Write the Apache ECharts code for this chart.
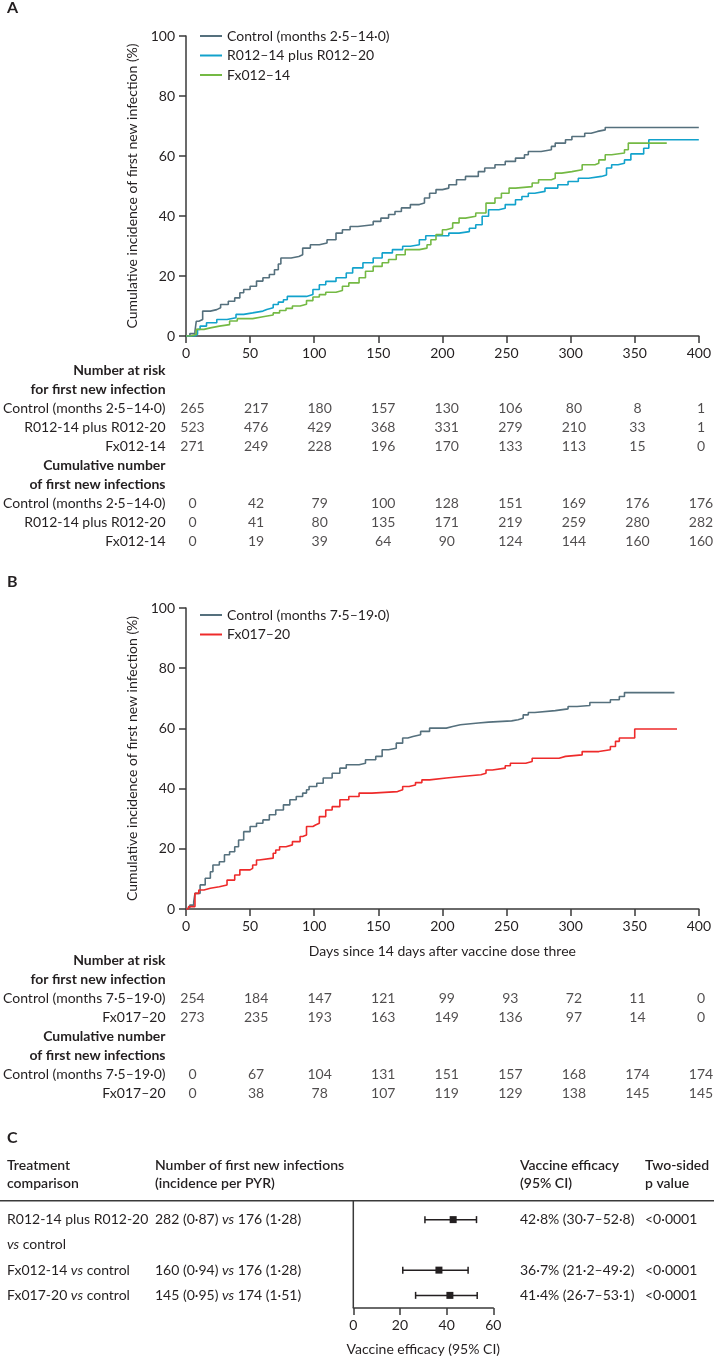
<!DOCTYPE html>
<html><head><meta charset="utf-8">
<script src="https://cdn.jsdelivr.net/npm/echarts@6/dist/echarts.min.js"></script>
<style>html,body{margin:0;padding:0;background:#fff}#c{width:714px;height:1358px}</style>
</head><body><div id="c"></div>
<script>
// ---------------- DATA ----------------
const dayTicks = [0, 50, 100, 150, 200, 250, 300, 350, 400];

const namesA = ['Control (months 2·5–14·0)', 'R012–14 plus R012–20', 'Fx012–14'];
const namesB = ['Control (months 7·5–19·0)', 'Fx017–20'];

// Kaplan-Meier style cumulative incidence (%) : [day, value]
const ctrlA = [[0,0],[3,0.8],[7,1.6],[8,4.9],[10,5.5],[13,8.3],[19,8.8],[24,9.4],[27,10.5],[33,11.6],[38,12.7],[42,14.4],[45,15.5],[50,16.6],[55,18.3],[60,19.4],[65,20.5],[69,22.1],[72,24.0],[74,26.0],[82,26.5],[88,27.1],[91,29.3],[97,30.4],[104,31.0],[110,32.1],[117,34.3],[122,35.4],[128,36.5],[134,37.1],[146,38.2],[152,39.3],[158,40.5],[163,41.5],[168,42.7],[175,43.8],[182,44.3],[186,46.0],[190,47.6],[195,48.8],[200,49.3],[205,50.4],[211,52.1],[218,53.2],[228,54.8],[233,56.0],[241,57.1],[249,58.2],[257,59.3],[264,60.4],[267,61.5],[277,62.1],[285,63.2],[288,64.3],[296,65.4],[301,66.5],[311,67.6],[316,68.2],[321,68.7],[327,69.5],[400,69.5]];
const r012A = [[0,0],[7,0.6],[9,2.2],[11,3.3],[16,4.4],[24,5.5],[32,6.1],[39,7.2],[45,7.7],[52,8.3],[60,8.8],[63,9.4],[68,10.5],[72,11.3],[76,12.1],[79,13.2],[94,13.8],[99,15.5],[104,17.1],[109,18.2],[117,19.4],[125,21.0],[130,22.7],[138,24.4],[146,26.0],[153,27.7],[161,28.8],[169,29.9],[175,30.4],[182,32.1],[187,33.4],[205,34.3],[213,34.8],[221,35.9],[226,37.1],[231,39.9],[236,42.1],[244,42.6],[249,43.8],[257,45.4],[262,46.5],[267,47.6],[272,48.2],[280,49.3],[290,50.4],[298,51.5],[306,52.6],[314,53.2],[324,53.7],[328,56.0],[332,57.1],[337,57.6],[342,58.7],[347,60.7],[357,62.6],[361,65.4],[400,65.4]];
const fxA = [[0,0],[4,0.6],[8,2.2],[14,2.7],[19,3.3],[26,3.8],[34,5.0],[40,5.8],[52,6.4],[60,7.0],[68,7.7],[73,8.5],[78,9.2],[83,10.0],[89,10.6],[94,11.8],[99,13.0],[104,13.8],[109,14.6],[117,15.2],[122,16.6],[127,17.7],[135,19.4],[140,21.6],[146,23.2],[153,24.4],[158,25.5],[164,27.1],[171,28.8],[182,29.3],[188,30.4],[191,32.1],[195,33.8],[200,35.4],[203,36.0],[208,37.7],[213,39.3],[218,39.9],[226,41.0],[234,44.3],[241,46.0],[246,47.6],[252,49.3],[257,49.8],[270,51.0],[275,52.1],[285,52.6],[288,54.3],[293,54.8],[301,55.4],[309,57.1],[319,57.6],[322,58.7],[327,60.4],[332,61.0],[342,62.1],[345,64.3],[375,64.3]];
const ctrlB = [[0,0],[1,0.5],[3,1.3],[6,2.4],[7,5.2],[11,8.0],[15,10.2],[19,12.4],[21,14.6],[26,15.7],[30,18.0],[34,19.0],[38,20.7],[41,22.9],[45,25.7],[50,27.4],[55,28.5],[60,29.6],[65,31.3],[70,32.9],[76,34.6],[81,36.3],[86,37.4],[91,38.5],[94,39.6],[96,40.7],[102,41.8],[107,43.5],[114,45.1],[120,46.8],[125,47.9],[135,48.4],[140,49.6],[148,50.7],[153,52.9],[158,53.4],[164,55.1],[169,56.8],[173,57.3],[177,57.9],[183,59.0],[190,60.1],[203,60.6],[208,61.2],[214,61.8],[228,62.1],[236,62.5],[254,62.9],[259,63.4],[263,64.5],[267,65.3],[272,65.9],[288,66.5],[298,67.3],[305,67.6],[315,68.6],[331,69.5],[338,70.6],[342,71.9],[381,71.9]];
const fxB = [[0,0],[2,0.8],[7,5.2],[10,6.3],[14,6.9],[19,7.4],[26,8.0],[32,9.6],[38,11.3],[42,13.0],[50,13.5],[52,14.6],[55,16.3],[57,16.9],[68,18.5],[70,19.6],[73,20.7],[78,21.3],[83,22.4],[89,24.1],[91,24.6],[94,27.4],[99,27.9],[101,28.5],[104,30.7],[109,32.9],[114,34.0],[120,36.3],[127,37.4],[135,38.5],[145,39.0],[165,39.6],[169,40.7],[174,41.2],[179,42.0],[184,42.9],[190,43.5],[203,44.0],[215,44.6],[230,45.1],[234,46.2],[239,46.8],[249,47.6],[253,48.4],[265,49.0],[270,50.1],[291,50.7],[296,51.2],[309,52.3],[322,52.9],[331,54.0],[335,55.7],[338,56.8],[350,59.8],[383,59.8]];

// Risk tables
const headRisk = ['Number at risk', 'for first new infection'];
const headCum = ['Cumulative number', 'of first new infections'];
const rowNamesA = ['Control (months 2·5–14·0)', 'R012-14 plus R012-20', 'Fx012-14'];
const atRiskA = [[265,217,180,157,130,106,80,8,1],[523,476,429,368,331,279,210,33,1],[271,249,228,196,170,133,113,15,0]];
const cumA = [[0,42,79,100,128,151,169,176,176],[0,41,80,135,171,219,259,280,282],[0,19,39,64,90,124,144,160,160]];
const rowNamesB = ['Control (months 7·5–19·0)', 'Fx017–20'];
const atRiskB = [[254,184,147,121,99,93,72,11,0],[273,235,193,163,149,136,97,14,0]];
const cumB = [[0,67,104,131,151,157,168,174,174],[0,38,78,107,119,129,138,145,145]];

// Forest plot (panel C)
const forestRows = ['row1', 'row1b', 'row2', 'row3'];
const veEst = [42.8, null, 36.7, 41.4];
const veLow = [30.7, null, 21.2, 26.7];
const veHigh = [52.8, null, 49.2, 53.1];
const cmpText = ['R012-14 plus R012-20', '{i|vs} control', 'Fx012-14 {i|vs} control', 'Fx017-20 {i|vs} control'];
const infText = ['282 (0·87) {i|vs} 176 (1·28)', '', '160 (0·94) {i|vs} 176 (1·28)', '145 (0·95) {i|vs} 174 (1·51)'];
const veText = ['42·8% (30·7–52·8)', '', '36·7% (21·2–49·2)', '41·4% (26·7–53·1)'];
const pText = ['<0·0001', '', '<0·0001', '<0·0001'];
const headersC = ['Treatment\ncomparison', 'Number of first new infections\n(incidence per PYR)', 'Vaccine efficacy\n(95% CI)', 'Two-sided\np value'];

// ---------------- STYLE ----------------
const FONT = 'Lato';
const TXT = '#231f20';
const AX = '#3a3a3a';
const colCtrl = '#55707d';
const colBlue = '#12a2cc';
const colGreen = '#74b944';
const colRed = '#ee2a2a';
const FS = 14;

const chart = echarts.init(document.getElementById('c'));

function tableRows(names, pre) {
  const keys = [], labels = {};
  headRisk.forEach((h, i) => { const k = pre + 'hr' + i; keys.push(k); labels[k] = '{h|' + h + '}'; });
  names.forEach((n, i) => { const k = pre + 'r' + i; keys.push(k); labels[k] = n; });
  headCum.forEach((h, i) => { const k = pre + 'hc' + i; keys.push(k); labels[k] = '{h|' + h + '}'; });
  names.forEach((n, i) => { const k = pre + 'c' + i; keys.push(k); labels[k] = n; });
  return { keys, labels };
}
function tableData(pre, risk, cum) {
  const out = [];
  risk.forEach((row, i) => row.forEach((v, j) => out.push([dayTicks[j], pre + 'r' + i, String(v)])));
  cum.forEach((row, i) => row.forEach((v, j) => out.push([dayTicks[j], pre + 'c' + i, String(v)])));
  return out;
}
const tA = tableRows(rowNamesA, 'A');
const tB = tableRows(rowNamesB, 'B');

const txt = { fontFamily: FONT, fontSize: FS, color: TXT };
function plotX(grid, extra) {
  return Object.assign({
    gridIndex: grid, type: 'value', min: 0, max: 400, interval: 50,
    axisLine: { show: true, lineStyle: { color: AX, width: 1.5 } },
    axisTick: { show: true, length: 7, lineStyle: { color: AX, width: 1.5 } },
    axisLabel: Object.assign({ margin: 10 }, txt),
    splitLine: { show: false }
  }, extra || {});
}
function plotY(grid) {
  return {
    gridIndex: grid, type: 'value', min: 0, max: 100, interval: 20,
    name: 'Cumulative incidence of first new infection (%)', nameLocation: 'middle', nameGap: 46,
    nameTextStyle: txt,
    axisLine: { show: true, lineStyle: { color: AX, width: 1.5 } },
    axisTick: { show: true, length: 7, lineStyle: { color: AX, width: 1.5 } },
    axisLabel: Object.assign({ margin: 11 }, txt),
    splitLine: { show: false }
  };
}
function tableY(grid, t) {
  return {
    gridIndex: grid, type: 'category', inverse: true, data: t.keys,
    axisLine: { show: false }, axisTick: { show: false }, splitLine: { show: false },
    axisLabel: Object.assign({ margin: 27, formatter: v => t.labels[v],
      rich: { h: { fontFamily: FONT, fontSize: FS, color: TXT, fontWeight: 'bold' } } }, txt)
  };
}
function km(name, data, color, xi, yi) {
  return { type: 'line', name, data, step: 'end', xAxisIndex: xi, yAxisIndex: yi,
    showSymbol: false, symbol: 'none', lineStyle: { color, width: 1.6 }, itemStyle: { color }, z: 3 };
}
function tableSeries(data, xi, yi) {
  return { type: 'scatter', data, xAxisIndex: xi, yAxisIndex: yi, symbolSize: 1,
    itemStyle: { color: 'rgba(0,0,0,0)' },
    label: Object.assign({ show: true, position: 'inside', formatter: p => p.value[2] }, txt) };
}
const legendBase = { orient: 'vertical', icon: 'rect', itemWidth: 22, itemHeight: 2, itemGap: 5.5, padding: 0,
  textStyle: txt, selectedMode: false };

const forestData = forestRows.map((r, i) => [veEst[i], veLow[i], veHigh[i], r]).filter(d => d[0] !== null);

chart.setOption({
  animation: false,
  backgroundColor: '#fff',
  textStyle: { fontFamily: FONT },
  grid: [
    { left: 186, right: 13, top: 36, height: 300 },
    { left: 186, right: 13, top: 361.2, height: 190 },
    { left: 186, right: 13, top: 608, height: 301 },
    { left: 186, right: 13, top: 951.2, height: 152 },
    { left: 353.3, width: 140, top: 1207, height: 101 }
  ],
  legend: [
    Object.assign({ left: 200, top: 29, data: namesA }, legendBase),
    Object.assign({ left: 200, top: 608, data: namesB }, legendBase)
  ],
  xAxis: [
    plotX(0),
    { gridIndex: 1, type: 'value', min: 0, max: 400, show: false },
    plotX(2, { name: 'Days since 14 days after vaccine dose three', nameLocation: 'middle', nameGap: 35, nameTextStyle: txt }),
    { gridIndex: 3, type: 'value', min: 0, max: 400, show: false },
    { gridIndex: 4, type: 'value', min: 0, max: 60, interval: 20,
      name: 'Vaccine efficacy (95% CI)', nameLocation: 'middle', nameGap: 34, nameTextStyle: txt,
      axisLine: { show: true, lineStyle: { color: AX, width: 1.5 } },
      axisTick: { show: true, length: 7, lineStyle: { color: AX, width: 1.5 } },
      axisLabel: Object.assign({ margin: 10 }, txt), splitLine: { show: false } }
  ],
  yAxis: [
    plotY(0),
    tableY(1, tA),
    plotY(2),
    tableY(3, tB),
    { gridIndex: 4, type: 'category', inverse: true, data: forestRows, show: false }
  ],
  series: [
    km(namesA[0], ctrlA, colCtrl, 0, 0),
    km(namesA[1], r012A, colBlue, 0, 0),
    km(namesA[2], fxA, colGreen, 0, 0),
    tableSeries(tableData('A', atRiskA, cumA), 1, 1),
    km(namesB[0], ctrlB, colCtrl, 2, 2),
    km(namesB[1], fxB, colRed, 2, 2),
    tableSeries(tableData('B', atRiskB, cumB), 3, 3),
    { type: 'custom', xAxisIndex: 4, yAxisIndex: 4, data: forestData,
      encode: { x: [0, 1, 2], y: 3 },
      renderItem: function (params, api) {
        const y = api.coord([0, api.value(3)])[1];
        const xe = api.coord([api.value(0), api.value(3)])[0];
        const xl = api.coord([api.value(1), api.value(3)])[0];
        const xh = api.coord([api.value(2), api.value(3)])[0];
        const st = { stroke: TXT, lineWidth: 1.5 };
        return { type: 'group', children: [
          { type: 'line', shape: { x1: xl, y1: y, x2: xh, y2: y }, style: st },
          { type: 'line', shape: { x1: xl, y1: y - 3.5, x2: xl, y2: y + 3.5 }, style: st },
          { type: 'line', shape: { x1: xh, y1: y - 3.5, x2: xh, y2: y + 3.5 }, style: st },
          { type: 'rect', shape: { x: xe - 3.5, y: y - 3.5, width: 7, height: 7 }, style: { fill: TXT } }
        ] };
      } }
  ]
});

// ---- panel C text columns and decorations placed from the axes ----
const rich = { i: { fontFamily: FONT, fontSize: FS, fill: TXT, fontStyle: 'italic' } };
function t(x, y, text, extra) {
  return { type: 'text', silent: true, style: Object.assign({ x, y, text, fontFamily: FONT, fontSize: FS, fill: TXT,
    verticalAlign: 'middle', align: 'left', rich }, extra || {}) };
}
const g = [];
g.push(t(7, 8, 'A', { fontSize: 16, fontWeight: 'bold' }));
g.push(t(7, 582, 'B', { fontSize: 16, fontWeight: 'bold' }));
g.push(t(7, 1138, 'C', { fontSize: 16, fontWeight: 'bold' }));
const colX = [7, 155, 520, 645];
headersC.forEach((h, i) => g.push(t(colX[i], 1174, h, { lineHeight: 18, fontWeight: 600 })));
g.push({ type: 'line', silent: true, shape: { x1: 0, y1: 1200.7, x2: 714, y2: 1200.7 }, style: { stroke: AX, lineWidth: 1.5 } });
const x0 = chart.convertToPixel({ xAxisIndex: 4 }, 0);
const yAxisBottom = chart.convertToPixel({ yAxisIndex: 4 }, forestRows[forestRows.length - 1]) + 101 / 8;
g.push({ type: 'line', silent: true, shape: { x1: x0, y1: 1200.7, x2: x0, y2: yAxisBottom }, style: { stroke: AX, lineWidth: 1.5 } });
forestRows.forEach((r, i) => {
  const y = chart.convertToPixel({ yAxisIndex: 4 }, r);
  [cmpText, infText, veText, pText].forEach((col, c) => { if (col[i]) g.push(t(colX[c], y, col[i])); });
});
chart.setOption({ graphic: g });
</script>
</body></html>
